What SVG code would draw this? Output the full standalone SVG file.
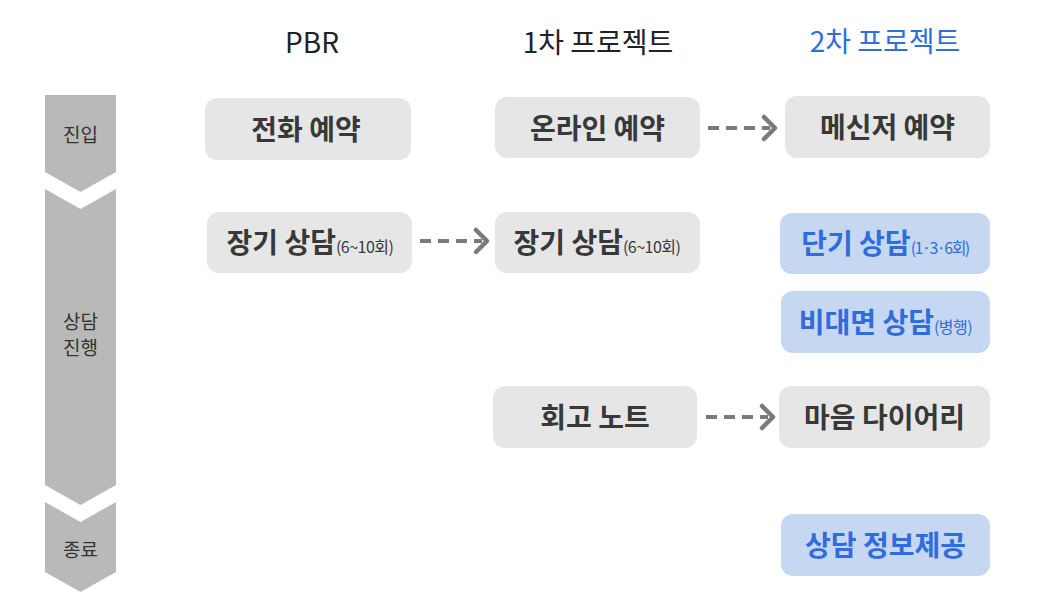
<svg xmlns="http://www.w3.org/2000/svg" width="1064" height="610" viewBox="0 0 1064 610">
<defs>
<style>
.stage{fill:#b9b9b9}
.stxt{font-family:"Noto Sans CJK KR","Noto Sans",sans-serif;font-size:19px;fill:#333;text-anchor:middle}
.hdr{font-family:"Noto Sans CJK KR","Noto Sans",sans-serif;font-size:28px;fill:#222;text-anchor:middle}
.hdr.blue{fill:#2f6fdc}
.gbox{fill:#e6e6e6}
.bbox{fill:#c6d8f1}
.t{font-family:"Noto Sans CJK KR","Noto Sans",sans-serif;font-size:28px;font-weight:700;fill:#383838;text-anchor:middle}
.t.blue{fill:#2f6cdc}
.sub{font-size:16px;font-weight:400;letter-spacing:-0.5px}
.tight{letter-spacing:-1.5px}
.conn{fill:none;stroke:#7a7a7a;stroke-width:4}
.head{stroke-width:4.5;stroke-linecap:round;stroke-linejoin:round}
.dash{stroke-dasharray:11 7}
</style>
</defs>
<rect width="1064" height="610" fill="#fff"/>
<g id="stages">
<g id="stage-entry">
<polygon class="stage" points="45,95 116,95 116,172 80.5,192 45,172"/>
<text class="stxt" x="80.5" y="142">진입</text>
</g>
<g id="stage-progress">
<polygon class="stage" points="45,189 80.5,209 116,189 116,485 80.5,505 45,485"/>
<text class="stxt" x="80.5" y="329">상담</text>
<text class="stxt" x="80.5" y="355">진행</text>
</g>
<g id="stage-end">
<polygon class="stage" points="45,502 80.5,522 116,502 116,572 80.5,592 45,572"/>
<text class="stxt" x="80.5" y="557">종료</text>
</g>
</g>
<g id="headers">
<text class="hdr" x="312" y="53">PBR</text>
<text class="hdr" x="598" y="53">1차 프로젝트</text>
<text class="hdr blue" x="885" y="52">2차 프로젝트</text>
</g>
<g id="n-phone"><rect class="gbox" x="205" y="98" width="206" height="62" rx="12"/><text class="t" x="306" y="140">전화 예약</text></g>
<g id="n-online"><rect class="gbox" x="495" y="97" width="205" height="61" rx="12"/><text class="t" x="597.5" y="139">온라인 예약</text></g>
<g id="n-messenger"><rect class="gbox" x="785" y="96" width="205" height="62" rx="12"/><text class="t" x="887.5" y="138">메신저 예약</text></g>
<g id="n-long-pbr"><rect class="gbox" x="207" y="212" width="205" height="61" rx="12"/><text class="t" x="310" y="253">장기 상담<tspan class="sub">(6~10회)</tspan></text></g>
<g id="n-long-1"><rect class="gbox" x="495" y="212" width="205" height="61" rx="12"/><text class="t" x="597" y="253">장기 상담<tspan class="sub">(6~10회)</tspan></text></g>
<g id="n-short"><rect class="bbox" x="780" y="213" width="210" height="61" rx="12"/><text class="t blue" x="885" y="254">단기 상담<tspan class="sub tight">(1·3·6회)</tspan></text></g>
<g id="n-remote"><rect class="bbox" x="781" y="291" width="209" height="62" rx="12"/><text class="t blue" x="885.5" y="333">비대면 상담<tspan class="sub">(병행)</tspan></text></g>
<g id="n-retro"><rect class="gbox" x="493" y="386" width="204" height="62" rx="12"/><text class="t" x="595" y="428">회고 노트</text></g>
<g id="n-diary"><rect class="gbox" x="779" y="386" width="211" height="62" rx="12"/><text class="t" x="884.5" y="428">마음 다이어리</text></g>
<g id="n-info"><rect class="bbox" x="781" y="514" width="209" height="62" rx="12"/><text class="t blue" x="885.5" y="556">상담 정보제공</text></g>
<g id="connectors">
<line class="conn dash" x1="708" y1="128" x2="770" y2="128"/>
<polyline class="conn head" points="764,117 775,128 764,139"/>
<line class="conn dash" x1="420" y1="241" x2="482" y2="241"/>
<polyline class="conn head" points="476,230 487,241 476,252"/>
<line class="conn dash" x1="706" y1="417" x2="768" y2="417"/>
<polyline class="conn head" points="762,406 773,417 762,428"/>
</g>
</svg>
